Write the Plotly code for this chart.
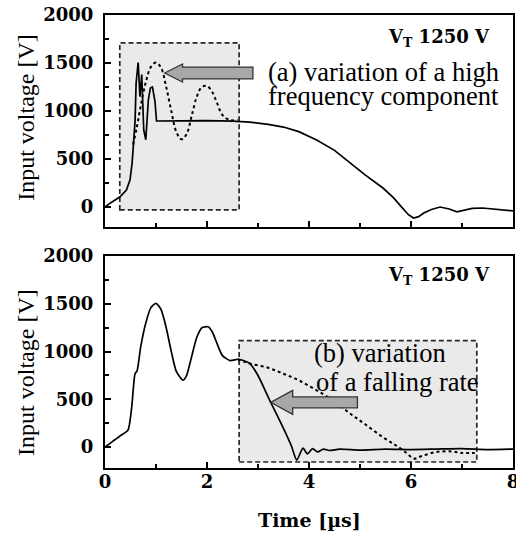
import plotly.graph_objects as go

# ---- data (time in microseconds, voltage in V) ----
top_solid_t = [0, 0.1, 0.29, 0.42, 0.49, 0.53, 0.56, 0.59, 0.61, 0.65, 0.685, 0.72, 0.76, 0.80,
               0.85, 0.89, 0.93, 0.98, 1.01, 1.5, 2.0, 2.5, 2.84, 3.2, 3.5, 3.8, 4.15, 4.5, 4.8,
               5.1, 5.45, 5.65, 5.8, 5.95, 6.05, 6.15, 6.25, 6.4, 6.57, 6.75, 6.9, 7.05, 7.2,
               7.4, 7.6, 7.8, 8.0]
top_solid_v = [0, 40, 104, 177, 281, 450, 667, 900, 1290, 1505, 1150, 1380, 800, 700,
               1115, 1240, 1250, 1100, 896, 900, 900, 895, 885, 860, 833, 785, 698, 590, 458,
               335, 198, 100, 10, -80, -115, -100, -62, -25, 0, -20, -50, -35, -15,
               -10, -20, -35, -40]

top_dotted_t = [0.55, 0.62, 0.7, 0.8, 0.9, 1.0, 1.1, 1.2, 1.3, 1.4, 1.5, 1.6, 1.7, 1.8,
                1.9, 2.0, 2.1, 2.2, 2.3, 2.45, 2.6]
top_dotted_v = [650, 820, 1050, 1300, 1460, 1505, 1450, 1250, 1000, 780, 705, 760, 950, 1150,
                1250, 1260, 1200, 1080, 960, 905, 910]

bot_solid_t = [0, 0.1, 0.2, 0.3, 0.45, 0.52, 0.59, 0.63, 0.7, 0.8, 0.9, 1.0, 1.1, 1.2, 1.3,
               1.4, 1.53, 1.6, 1.7, 1.8, 1.9, 2.02, 2.1, 2.2, 2.3, 2.45, 2.6, 2.7, 2.84, 3.0,
               3.23, 3.49, 3.65, 3.76, 3.88, 3.97, 4.07, 4.17, 4.28, 4.4, 4.6, 5.0, 5.5, 6.0,
               6.5, 7.0, 7.5, 8.0]
bot_solid_v = [0, 40, 80, 120, 177, 400, 770, 800, 1050, 1300, 1460, 1505, 1440, 1250, 1000,
               790, 700, 750, 950, 1150, 1250, 1260, 1210, 1080, 960, 906, 920, 910, 875, 750,
               490, 208, 20, -135, -10, -70, -15, -50, -20, -35, -20, -30, -20, -25,
               -20, -15, -25, -20]

bot_dotted_t = [2.6, 2.84, 3.2, 3.49, 3.8, 4.15, 4.5, 4.8, 5.1, 5.45, 5.7, 5.92, 6.05, 6.2,
                6.5, 6.8, 7.0, 7.25]
bot_dotted_v = [920, 875, 830, 770, 700, 594, 480, 354, 240, 104, 20, -63, -120, -95,
                -50, -45, -60, -60]

x_ticks = [0, 2, 4, 6, 8]
y_ticks = [0, 500, 1000, 1500, 2000]

TICKFONT = dict(family="DejaVu Serif", size=18, color="black", weight="bold")
TEXTFONT = dict(family="Liberation Serif", size=26.5, color="black")

fig = go.Figure()
fig.add_trace(go.Scatter(x=top_solid_t, y=top_solid_v, mode="lines",
                         line=dict(color="black", width=1.7),
                         xaxis="x", yaxis="y", showlegend=False))
fig.add_trace(go.Scatter(x=top_dotted_t, y=top_dotted_v, mode="lines",
                         line=dict(color="black", width=2, dash="dot", shape="spline"),
                         xaxis="x", yaxis="y", showlegend=False))
fig.add_trace(go.Scatter(x=bot_solid_t, y=bot_solid_v, mode="lines",
                         line=dict(color="black", width=1.7, shape="spline", smoothing=0.6),
                         xaxis="x2", yaxis="y2", showlegend=False))
fig.add_trace(go.Scatter(x=bot_dotted_t, y=bot_dotted_v, mode="lines",
                         line=dict(color="black", width=2, dash="dot", shape="spline"),
                         xaxis="x2", yaxis="y2", showlegend=False))

axis_common = dict(showline=True, linecolor="black", linewidth=2, mirror=True,
                   ticks="inside", ticklen=6, tickwidth=1.5, tickcolor="black",
                   showgrid=False, zeroline=False, tickfont=TICKFONT, automargin=False)

fig.update_layout(
    width=516, height=534,
    margin=dict(l=105, r=3, t=15, b=66),
    plot_bgcolor="white", paper_bgcolor="white",
    xaxis=dict(domain=[0, 1], range=[0, 8], anchor="y", tickvals=x_ticks, showticklabels=False,
               minor=dict(dtick=1, ticks="inside", ticklen=4, tickcolor="black"), **axis_common),
    yaxis=dict(domain=[0.532, 1], range=[-208, 2000], anchor="x", tickvals=y_ticks,
               ticklabelstandoff=6,
               minor=dict(dtick=250, ticks="inside", ticklen=4, tickcolor="black"), **axis_common),
    xaxis2=dict(domain=[0, 1], range=[0, 8], anchor="y2", tickvals=x_ticks,
                ticklabeloverflow="allow", ticklabelstandoff=-4,
                minor=dict(dtick=1, ticks="inside", ticklen=4, tickcolor="black"), **axis_common),
    yaxis2=dict(domain=[0, 0.468], range=[-218, 2000], anchor="x2", tickvals=y_ticks,
                ticklabelstandoff=6,
                minor=dict(dtick=250, ticks="inside", ticklen=4, tickcolor="black"), **axis_common),
)

# highlighted regions
box_style = dict(type="rect", layer="below", fillcolor="rgb(234,234,234)",
                 line=dict(color="rgb(40,40,40)", width=1.7, dash="5px,3px"))
fig.add_shape(xref="x", yref="y", x0=0.29, x1=2.63, y0=-30, y1=1710, **box_style)
fig.add_shape(xref="x2", yref="y2", x0=2.63, x1=7.29, y0=-155, y1=1115, **box_style)

# block arrows
arrow_style = dict(type="path", fillcolor="rgb(168,168,168)",
                   line=dict(color="rgb(50,50,50)", width=1.3), layer="above")
fig.add_shape(xref="x", yref="y",
              path="M 1.17 1396 L 1.52 1490 L 1.52 1458 L 2.9 1458 L 2.9 1334 L 1.52 1334 L 1.52 1302 Z",
              **arrow_style)
fig.add_shape(xref="x2", yref="y2",
              path="M 3.25 469 L 3.68 594 L 3.68 526 L 4.95 526 L 4.95 412 L 3.68 412 L 3.68 344 Z",
              **arrow_style)

# texts
VT_FONT = dict(family="DejaVu Serif", size=18, color="black")
fig.add_annotation(xref="x", yref="y", x=7.59, y=1760, xanchor="right", yanchor="middle",
                   text="<b>V<sub>T</sub> 1250 V</b>", showarrow=False, font=VT_FONT)
fig.add_annotation(xref="x2", yref="y2", x=7.59, y=1792, xanchor="right", yanchor="middle",
                   text="<b>V<sub>T</sub> 1250 V</b>", showarrow=False, font=VT_FONT)
fig.add_annotation(xref="x", yref="y", x=7.75, y=1406, xanchor="right", yanchor="middle",
                   text="(a) variation of a high", showarrow=False, font=TEXTFONT, borderpad=0)
fig.add_annotation(xref="x", yref="y", x=7.75, y=1160, xanchor="right", yanchor="middle",
                   text="frequency component", showarrow=False, font=TEXTFONT, borderpad=0)
fig.add_annotation(xref="x2", yref="y2", x=4.08, y=990, xanchor="left", yanchor="middle",
                   text="(b) variation", showarrow=False, font=TEXTFONT, borderpad=0)
fig.add_annotation(xref="x2", yref="y2", x=4.12, y=677, xanchor="left", yanchor="middle",
                   text="of a falling rate", showarrow=False, font=TEXTFONT, borderpad=0)

# axis titles
for yp in (0.773, 0.21):
    fig.add_annotation(xref="paper", yref="paper", x=-0.1936, y=yp, xanchor="center",
                       yanchor="middle", textangle=-90, text="Input voltage [V]",
                       showarrow=False, font=dict(family="Liberation Serif", size=24, color="black"))
fig.add_annotation(xref="paper", yref="paper", x=0.5, y=-0.115, xanchor="center",
                   yanchor="middle", text="<b>Time [µs]</b>", showarrow=False,
                   font=dict(family="DejaVu Serif", size=19, color="black"))

fig.write_html("out.html", config={"displayModeBar": False},
               post_script="document.body.style.margin='0';document.body.style.padding='0';")
